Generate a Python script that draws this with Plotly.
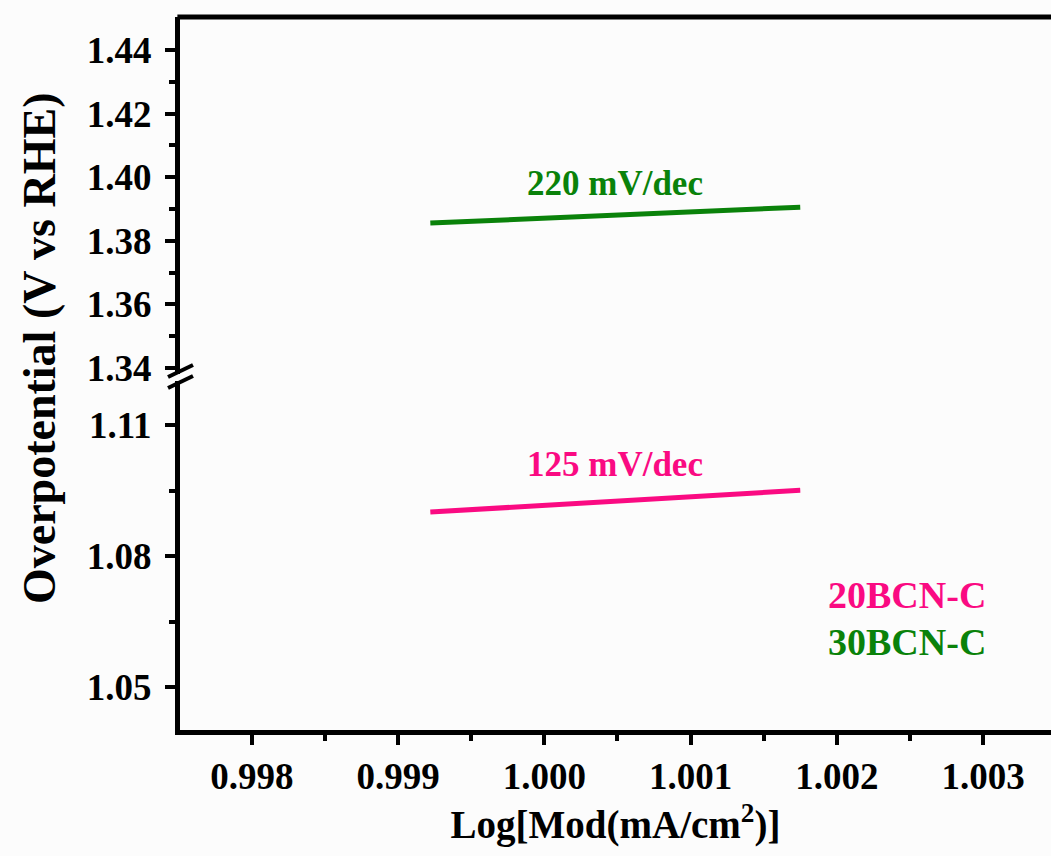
import plotly.graph_objects as go

# Data
x_fit = [0.99922, 1.00175]
y_20bcn = [1.0901, 1.0951]   # 20BCN-C (lower segment)
y_30bcn = [1.3856, 1.3906]   # 30BCN-C (upper segment)
series_names = ["20BCN-C", "30BCN-C"]
slope_labels = ["125 mV/dec", "220 mV/dec"]
x_ticks = [0.998, 0.999, 1.000, 1.001, 1.002, 1.003]

PINK = "#fa0a82"
GREEN = "#0a820a"
FONT = "Liberation Serif"

W, H = 1051, 856
L, R, T, B = 180, 0, 17, 126
pw, ph = W - L - R, H - T - B

fig = go.Figure()
fig.add_trace(go.Scatter(x=x_fit, y=y_20bcn, mode="lines", name=series_names[0],
                         line=dict(color=PINK, width=5), yaxis="y", showlegend=False))
fig.add_trace(go.Scatter(x=x_fit, y=y_30bcn, mode="lines", name=series_names[1],
                         line=dict(color=GREEN, width=5), yaxis="y2", showlegend=False))

tickfont = dict(family=FONT, size=37, color="black", weight="bold")

fig.update_layout(
    width=W, height=H,
    margin=dict(l=L, r=R, t=T, b=B),
    paper_bgcolor="#fcfcfc", plot_bgcolor="#fcfcfc",
    xaxis=dict(range=[0.997508, 1.003465], tickvals=x_ticks, tickformat=".3f",
               ticks="outside", ticklen=10, tickwidth=4, tickcolor="black",
               minor=dict(dtick=0.0005, tick0=0.9975, ticks="outside", ticklen=6, tickwidth=4, tickcolor="black"),
               showline=True, linewidth=5, linecolor="black", showgrid=False, zeroline=False,
               tickfont=tickfont,
               title=dict(text="Log[Mod(mA/cm<sup>2</sup>)]", font=dict(family=FONT, size=39, color="black", weight="bold"),
                          standoff=16),
               anchor="y"),
    yaxis=dict(domain=[0, 0.49], range=[1.0402, 1.1202], tickvals=[1.05, 1.08, 1.11], tickformat=".2f",
               ticks="outside", ticklen=10, tickwidth=4, tickcolor="black",
               minor=dict(tickvals=[1.065, 1.095], ticks="outside", ticklen=6, tickwidth=4, tickcolor="black"),
               showline=True, linewidth=5, linecolor="black", showgrid=False, zeroline=False,
               tickfont=tickfont, ticklabelstandoff=6),
    yaxis2=dict(domain=[0.5, 1], range=[1.3383, 1.4504], tickvals=[1.34, 1.36, 1.38, 1.40, 1.42, 1.44], tickformat=".2f",
                ticks="outside", ticklen=10, tickwidth=4, tickcolor="black",
                minor=dict(tickvals=[1.35, 1.37, 1.39, 1.41, 1.43], ticks="outside", ticklen=6, tickwidth=4, tickcolor="black"),
                showline=True, linewidth=5, linecolor="black", showgrid=False, zeroline=False,
                tickfont=tickfont, ticklabelstandoff=6, anchor="x"),
)

def px2paper(px, py):
    return (px - L) / pw, (H - B - py) / ph

shapes = []
# top frame line
shapes.append(dict(type="line", xref="paper", yref="paper", x0=-0.003, x1=1.0, y0=1, y1=1,
                   line=dict(color="black", width=5)))
# break marks
for cy in (371, 382):
    x0, y0 = px2paper(168, cy + 6)
    x1, y1 = px2paper(193, cy - 6)
    shapes.append(dict(type="line", xref="paper", yref="paper", x0=x0, y0=y0, x1=x1, y1=y1,
                       line=dict(color="black", width=4)))
fig.update_layout(shapes=shapes)

annots = []
annots.append(dict(text="Overpotential (V vs RHE)", xref="paper", yref="paper",
                   x=px2paper(40, 0)[0], y=px2paper(0, 348)[1], textangle=-90, showarrow=False,
                   xanchor="center", yanchor="middle",
                   font=dict(family=FONT, size=46, color="black", weight="bold")))
annots.append(dict(text=slope_labels[1], x=(x_fit[0] + x_fit[1]) / 2, y=y_30bcn[1] + 0.0008, xref="x", yref="y2",
                   showarrow=False, yanchor="bottom", xanchor="center",
                   font=dict(family=FONT, size=35, color=GREEN, weight="bold")))
annots.append(dict(text=slope_labels[0], x=(x_fit[0] + x_fit[1]) / 2, y=y_20bcn[1] + 0.0010, xref="x", yref="y",
                   showarrow=False, yanchor="bottom", xanchor="center",
                   font=dict(family=FONT, size=35, color=PINK, weight="bold")))
for name, col, py in ((series_names[0], PINK, 595), (series_names[1], GREEN, 642)):
    xx, yy = px2paper(826, py)
    annots.append(dict(text=name, xref="paper", yref="paper", x=xx, y=yy, showarrow=False,
                       xanchor="left", yanchor="middle",
                       font=dict(family=FONT, size=38, color=col, weight="bold")))
fig.update_layout(annotations=annots)

fig.write_html("out.html")
